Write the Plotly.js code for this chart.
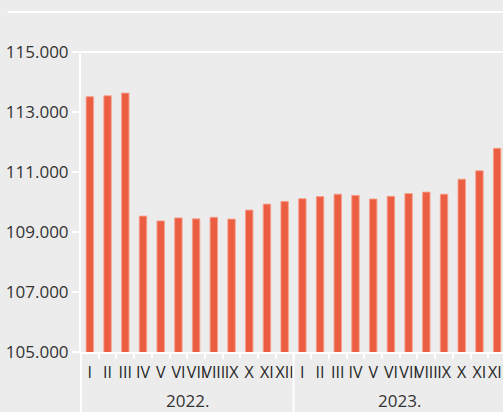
<!DOCTYPE html>
<html>
<head>
<meta charset="utf-8">
<script src="https://cdn.plot.ly/plotly-3.0.1.min.js"></script>
<style>
html, body { margin: 0; padding: 0; background: #ececec; overflow: hidden; }
#chart { width: 510px; height: 412px; }
</style>
</head>
<body>
<div id="chart"></div>
<script>
const years = ["2022.", "2023."];
const months = ["I", "II", "III", "IV", "V", "VI", "VII", "VIII", "IX", "X", "XI", "XII"];
const values2022 = [113.51, 113.54, 113.63, 109.53, 109.37, 109.47, 109.44, 109.49, 109.43, 109.73, 109.93, 110.02];
const values2023 = [110.11, 110.18, 110.26, 110.22, 110.10, 110.19, 110.28, 110.33, 110.26, 110.76, 111.04, 111.79];
const yTickVals = [105, 107, 109, 111, 113, 115];
const yTickText = ["105.000", "107.000", "109.000", "111.000", "113.000", "115.000"];

const cats = [], catLabels = [], yVals = [];
years.forEach((yr, i) => {
  const vals = i === 0 ? values2022 : values2023;
  months.forEach((m, j) => { cats.push(m + " " + yr); catLabels.push(m); yVals.push(vals[j]); });
});
const nCats = cats.length;

const trace = {
  type: "bar",
  x: cats,
  y: yVals,
  marker: { color: "#ec5e42", line: { color: "rgba(246,160,140,0.9)", width: 1 } },
  hoverinfo: "y"
};

// year group labels and dividers, derived from the category arrays
const annotations = years.map((yr, i) => ({
  text: yr, xref: "x", yref: "paper",
  x: i * months.length + (months.length - 1) / 2, y: -0.163,
  xanchor: "center", yanchor: "middle", showarrow: false,
  font: { size: 17, color: "#333" }
}));
const dividers = [];
for (let i = 0; i <= years.length; i++) {
  const xp = (i * months.length) / nCats;
  dividers.push({ type: "line", xref: "paper", yref: "paper", x0: xp, x1: xp, y0: 0, y1: -0.21,
    line: { color: "#ffffff", width: 2 } });
}

const layout = {
  width: 510,
  height: 412,
  margin: { l: 81, r: 4, t: 52, b: 60 },
  paper_bgcolor: "#ececec",
  plot_bgcolor: "#ececec",
  bargap: 0.58,
  showlegend: false,
  font: { family: "Open Sans, sans-serif", color: "#2a2a2a", size: 17 },
  xaxis: {
    type: "category",
    tickmode: "array", tickvals: cats, ticktext: catLabels,
    tickson: "boundaries",
    tickangle: 0,
    ticklabelstandoff: 5,
    showline: true, linecolor: "#ffffff", linewidth: 2,
    ticks: "outside", ticklen: 5, tickcolor: "#ffffff", tickwidth: 2,
    showgrid: false, zeroline: false,
    tickfont: { size: 16, color: "#262626" }
  },
  yaxis: {
    range: [105, 115],
    tickvals: yTickVals, ticktext: yTickText,
    showline: true, linecolor: "#ffffff", linewidth: 2,
    ticks: "outside", ticklen: 7, tickcolor: "#ffffff", tickwidth: 2,
    showgrid: false, zeroline: false,
    tickfont: { size: 17, color: "#333" }
  },
  annotations: annotations,
  shapes: [
    { type: "line", xref: "paper", yref: "paper", x0: 0, x1: 1, y0: 1, y1: 1,
      line: { color: "#ffffff", width: 2 } },
    { type: "line", xref: "paper", yref: "paper", x0: -0.172, x1: 1, y0: 1.1333, y1: 1.1333,
      line: { color: "#ffffff", width: 2 } }
  ].concat(dividers)
};

Plotly.newPlot("chart", [trace], layout, { displayModeBar: false, staticPlot: true });
</script>
</body>
</html>
